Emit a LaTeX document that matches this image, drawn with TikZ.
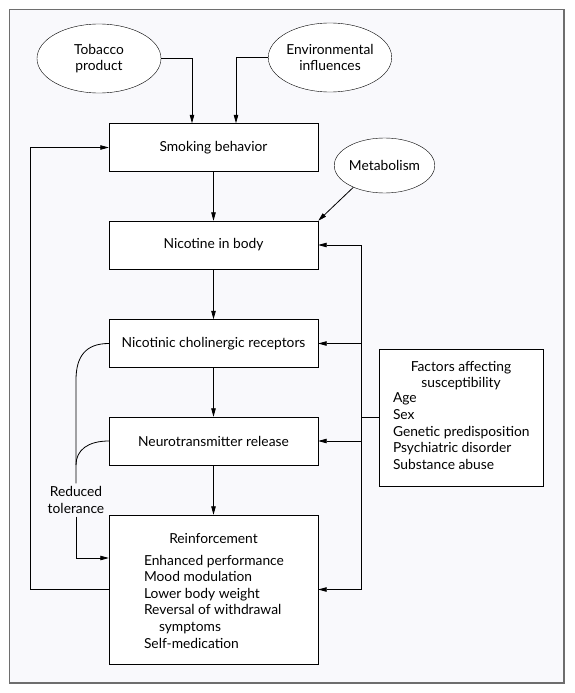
\documentclass[tikz,border=0pt]{standalone}
\usepackage{fontspec}
\setmainfont{Lato}
\usetikzlibrary{positioning,shapes.geometric,arrows.meta}
\definecolor{framegray}{HTML}{6E6E6E}
\definecolor{panelbg}{HTML}{F9F9FC}

\begin{document}
\begin{tikzpicture}[x=1pt,y=-1pt,
    every node/.style={font=\fontsize{13.8}{16.6}\selectfont},
    box/.style={draw,fill=white,minimum width=209pt,minimum height=48pt,inner sep=0pt},
    oval/.style={ellipse,draw,fill=white,inner sep=0pt,align=center},
    link/.style={line width=0.8pt},
    arr/.style={link,-{Triangle[length=8.5pt,width=4.5pt]}}]
        \def\BusX{361}     % x of the right feed line
        \def\TolX{76}      % x of the reduced tolerance line
        \useasboundingbox (0,0) rectangle (574,693);
        \draw[framegray, line width=1.6pt, fill=panelbg] (9.5,9.5) rectangle (564,683);

        % sources
        \node[oval, minimum width=124pt, minimum height=69pt] (tob) at (99,58.5) {Tobacco\\product};
        \node[oval, minimum width=122pt, minimum height=69pt] (env) at (330,57.5) {Environmental\\influences};
        \node[oval, minimum width=99pt, minimum height=55pt] (met) at (384.5,165.5) {Metabolism};

        % main chain
        \node[box] (smk) at (213.5,147.5) {Smoking behavior};
        \node[box] (nic) at (213.5,245) {Nicotine in body};
        \node[box] (rec) at (213.5,343.5) {Nicotinic cholinergic receptors};
        \node[box] (neu) at (213.5,441) {Neurotransmitter release};
        \node[box, minimum height=149pt] (rei) at (213.5,589.5) {};
        \node (reihead) at ([yshift=-24pt]rei.north) {Reinforcement};
        \node[anchor=north west, align=left, inner sep=0pt] (reilist) at ([xshift=35pt,yshift=-40pt]rei.north west)
            {Enhanced performance\\Mood modulation\\Lower body weight\\Reversal of withdrawal\\\hspace*{15pt}symptoms\\Self-medication};

        % susceptibility
        \node[draw, fill=white, minimum width=164pt, minimum height=137pt, inner sep=0pt] (fac) at (461,417.5) {};
        \node[align=center, inner sep=0pt] (fachead) at ([yshift=-27pt]fac.north) {Factors affecting\\susceptibility};
        \node[anchor=north west, align=left, inner sep=0pt] (faclist) at ([xshift=14pt,yshift=-44pt]fac.north west)
            {Age\\Sex\\Genetic predisposition\\Psychiatric disorder\\Substance abuse};

        \node[align=center, inner sep=3pt] (tol) at (\TolX,500) {Reduced\\tolerance};

        \draw[arr] (tob.east) -| ([xshift=-21.5pt]smk.north);
        \draw[arr] (env.west) -| ([xshift=22.5pt]smk.north);
        \draw[arr] (met.215) -- (nic.north east);
        \draw[arr] (smk) -- (nic);
        \draw[arr] (nic) -- (rec);
        \draw[arr] (rec) -- (neu);
        \draw[arr] (neu) -- (rei);

        % feed from the factors
        \draw[link] (\BusX,245) -- (\BusX,590);
        \draw[link] (fac.west) -- (\BusX,417.5);
        \foreach \n in {nic,rec,neu,rei} {
            \draw[arr] (\BusX,0 |- \n.east) -- (\n.east);
        }

        % loop back
        \draw[arr] (rei.west) -- ++(-78,0) |- (smk.west);

        % reduced tolerance
        \draw[link] (rec.west) .. controls (86,343.5) and (\TolX,356) .. (\TolX,380) -- (tol.north);
        \draw[link] (neu.west) .. controls (88,441) and (\TolX,450) .. (\TolX,465);
        \draw[arr] (tol.south) |- ([yshift=31.5pt]rei.west);
    \end{tikzpicture}
\end{document}
